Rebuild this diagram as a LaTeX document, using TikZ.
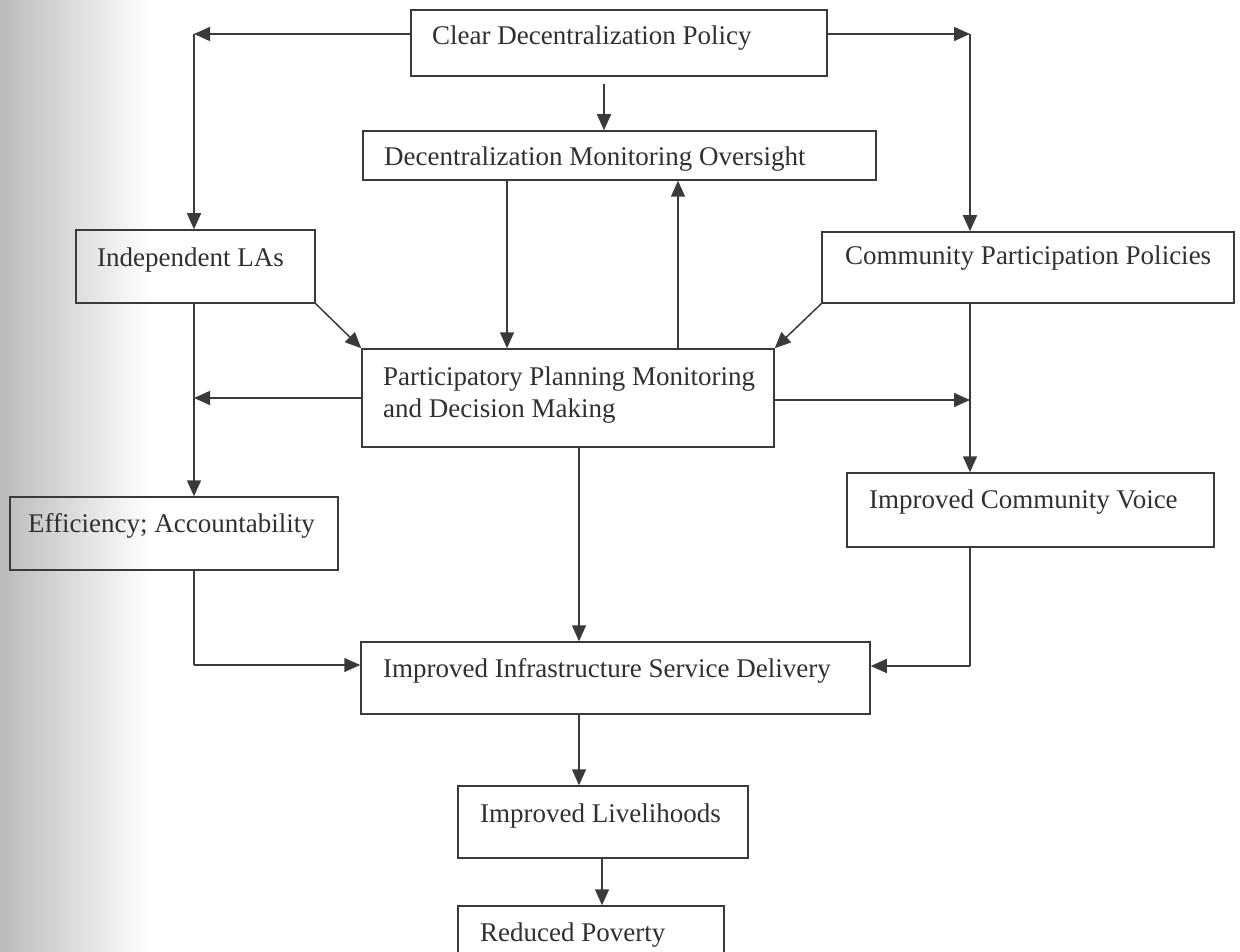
\documentclass[tikz,border=0pt]{standalone}
\usepackage{fontspec}
\setmainfont{Liberation Serif}
\usetikzlibrary{arrows.meta,fit}
\definecolor{linec}{HTML}{3A3A3A}
\definecolor{textc}{HTML}{303030}
\begin{document}
\begin{tikzpicture}[x=1pt,y=-1pt,
  box/.style={draw=linec, line width=1.5pt, inner sep=0pt},
  lbl/.style={anchor=base west, inner sep=0pt, text=textc, font=\fontsize{27}{32}\selectfont, align=left},
  arr/.style={draw=linec, line width=1.5pt, -{Triangle[length=16pt,width=14pt]}},
  ln/.style={draw=linec, line width=1.5pt}]
\useasboundingbox (0,0) rectangle (1240,952);
\clip (0,0) rectangle (1240,952);
\shade[left color=black!27, middle color=black!8, right color=white, draw=none] (0,0) rectangle (150,952);

% boxes
\node[box, fit={(411,10) (827,76)}] (clear) {};
\node[box, fit={(363,131) (876,180)}] (dmo) {};
\node[box, fit={(76,230) (315,303)}] (ind) {};
\node[box, fit={(822,232) (1234,303)}] (comm) {};
\node[box, fit={(362,349) (774,447)}] (part) {};
\node[box, fit={(10,497) (338,570)}] (eff) {};
\node[box, fit={(847,473) (1214,547)}] (icv) {};
\node[box, fit={(361,642) (870,714)}] (inf) {};
\node[box, fit={(458,786) (748,858)}] (liv) {};
\node[box, fit={(458,906) (724,975)}] (pov) {};

% texts
\node[lbl] (tclear) at (432,45) {Clear Decentralization Policy};
\node[lbl] (tdmo) at (384,166) {Decentralization Monitoring Oversight};
\node[lbl] (tind) at (97,266) {Independent LAs};
\node[lbl] (tcomm) at (845,265) {Community Participation Policies};
\node[lbl] (tpart) at (383,417) {Participatory Planning Monitoring\\and Decision Making};
\node[lbl] (teff) at (28,532) {Efficiency; Accountability};
\node[lbl] (ticv) at (869,508) {Improved Community Voice};
\node[lbl] (tinf) at (383,677) {Improved Infrastructure Service Delivery};
\node[lbl] (tliv) at (480,822) {Improved Livelihoods};
\node[lbl] (tpov) at (480,941) {Reduced Poverty};

% helper coordinates
\coordinate (cl) at (194,34);
\coordinate (cr) at (970,34);
\coordinate (pl) at (194,398);
\coordinate (pr) at (970,400);
\coordinate (bl) at (194,665);
\coordinate (br) at (970,666);

% connectors
\draw[arr] (clear.west |- cl) -- (cl);
\draw[arr] (cl) -- (ind.north -| cl);
\draw[arr] (clear.east |- cr) -- (cr);
\draw[arr] (cr) -- (comm.north -| cr);
\draw[arr, shorten <=7pt] (clear.south -| 604,0) -- (dmo.north -| 604,0);
\draw[arr] (dmo.south -| 507,0) -- (part.north -| 507,0);
\draw[arr] (part.north -| 678,0) -- (dmo.south -| 678,0);
\draw[arr] (ind.south east) -- (part.north west);
\draw[arr] (comm.south west) -- (part.north east);
\draw[arr] (part.west |- pl) -- (pl);
\draw[arr] (ind.south -| cl) -- (eff.north -| cl);
\draw[arr] (part.east |- pr) -- (pr);
\draw[arr] (comm.south -| cr) -- (icv.north -| cr);
\draw[arr] (part.south -| 579,0) -- (inf.north -| 579,0);
\draw[ln] (eff.south -| bl) -- (bl);
\draw[arr] (bl) -- (inf.west |- bl);
\draw[ln] (icv.south -| br) -- (br);
\draw[arr] (br) -- (inf.east |- br);
\draw[arr] (inf.south -| 579,0) -- (liv.north -| 579,0);
\draw[arr] (liv.south -| 602,0) -- (pov.north -| 602,0);
\end{tikzpicture}
\end{document}
